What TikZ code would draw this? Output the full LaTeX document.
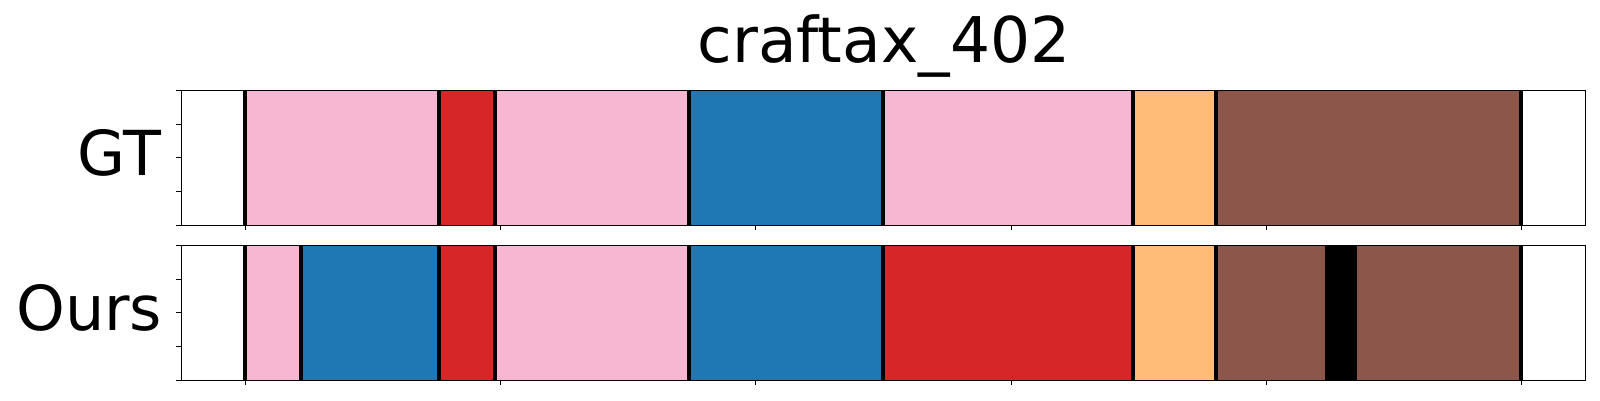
\documentclass[tikz,border=0pt]{standalone}
\usepackage{fontspec}
\setmainfont{DejaVu Sans}
\definecolor{segpink}{HTML}{F7B6D2}
\definecolor{segred}{HTML}{D62728}
\definecolor{segblue}{HTML}{1F77B4}
\definecolor{segorange}{HTML}{FFBB78}
\definecolor{segbrown}{HTML}{8C564B}
\begin{document}
\begin{tikzpicture}[x=1pt,y=-1pt,
  bnd/.style={line width=4pt, black},
  frame/.style={line width=1pt, black},
  tickmark/.style={line width=0.9pt, black},
  lab/.style={font=\fontsize{62}{62}\selectfont, anchor=base east, inner sep=0pt},
  ttl/.style={font=\fontsize{63}{63}\selectfont, anchor=base, inner sep=0pt}]
\useasboundingbox[fill=white] (0,0) rectangle (1600,400);
% ---------- GT panel ----------
\foreach \a/\b/\c in {245.3/439/segpink, 439/495/segred, 495/689/segpink, 689/883/segblue, 883/1132.8/segpink, 1132.8/1215.8/segorange, 1215.8/1521.2/segbrown}
  \fill[\c] (\a,90) rectangle (\b,225.3);
\foreach \x in {245.3,439,495,689,883,1132.8,1215.8,1521.2}
  \draw[bnd] (\x,90) -- (\x,225.3);
\draw[frame] (181.5,90) rectangle (1585.5,225.3);
% ---------- Ours panel ----------
\foreach \a/\b/\c in {245.3/300.7/segpink, 300.7/439/segblue, 439/495/segred, 495/689/segpink, 689/883/segblue, 883/1132.8/segred, 1132.8/1215.8/segorange, 1215.8/1325/segbrown, 1325/1357/black, 1357/1521.2/segbrown}
  \fill[\c] (\a,245.3) rectangle (\b,380);
\foreach \x in {245.3,300.7,439,495,689,883,1132.8,1215.8,1521.2}
  \draw[bnd] (\x,245.3) -- (\x,380);
\draw[frame] (181.5,245.3) rectangle (1585.5,380);
% ---------- ticks ----------
\foreach \k in {0,...,5} {
  \draw[tickmark] ({245.5+255.2*\k},225.3) -- ++(0,5);
  \draw[tickmark] ({245.5+255.2*\k},380) -- ++(0,5);
}
\foreach \y in {90,124.3,157.6,191.5,225.3}
  \draw[tickmark] (181.5,\y) -- ++(-5.3,0);
\foreach \y in {245.3,279.3,312.7,346.5,380}
  \draw[tickmark] (181.5,\y) -- ++(-5.3,0);
% ---------- texts ----------
\node[lab] (gt) at (161.5,175.3) {GT};
\node[lab] (ours) at (162.5,330) {Ours};
\node[ttl] (title) at (884,62.3) {craftax\_402};
\end{tikzpicture}
\end{document}
